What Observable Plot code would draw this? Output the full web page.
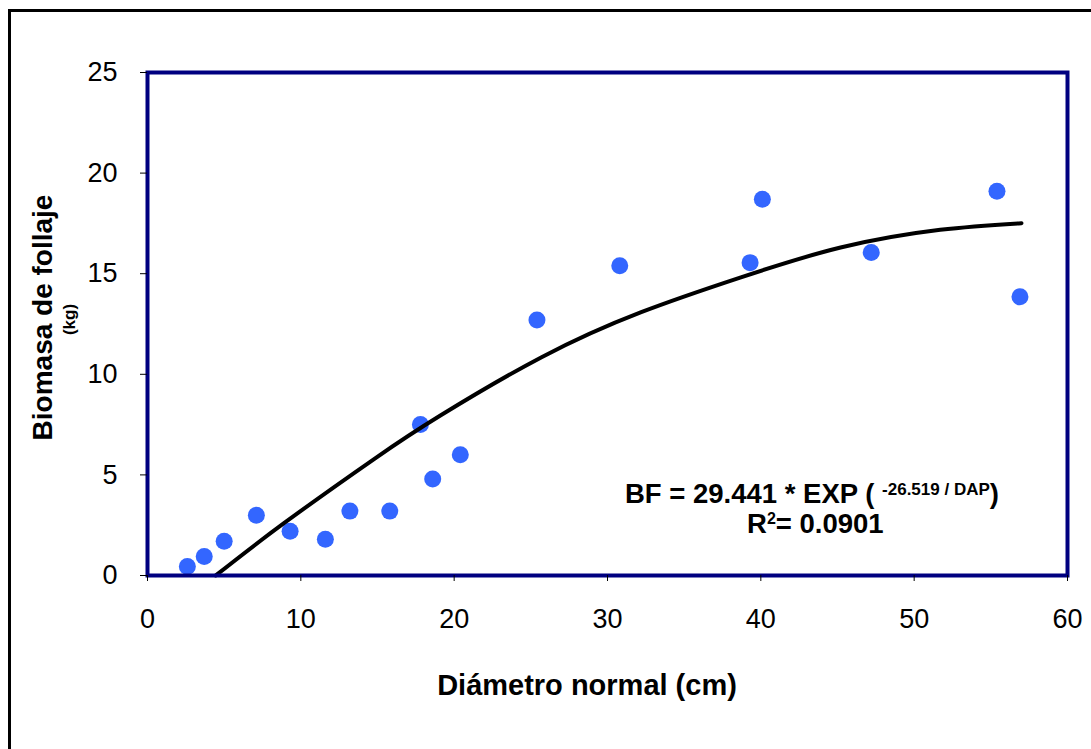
<!DOCTYPE html>
<html><head><meta charset="utf-8">
<script src="https://cdn.jsdelivr.net/npm/d3@7"></script>
<script src="https://cdn.jsdelivr.net/npm/@observablehq/plot@0.6"></script>
<style>body{margin:0;background:#fff;} svg{display:block}</style>
</head><body><div id="chart"></div>
<script>
// Observed data (diámetro normal cm, biomasa de follaje kg)
const diametro = [2.6, 3.7, 5.0, 7.1, 9.3, 11.6, 13.2, 15.8, 17.8, 18.6, 20.4, 25.4, 30.8, 39.3, 40.1, 47.2, 55.4, 56.9];
const biomasa  = [0.45, 0.95, 1.7, 3.0, 2.2, 1.8, 3.2, 3.2, 7.5, 4.8, 6.0, 12.7, 15.4, 15.55, 18.7, 16.05, 19.1, 13.85];
// Fitted curve
const curvaX = [4.45, 8.9, 14.8, 19.1, 25.7, 32.2, 38.7, 45.2, 51.7, 57.0];
const curvaY = [0, 2.6, 5.8, 7.95, 10.85, 13.09, 14.82, 16.3, 17.18, 17.51];
const xTicks = [0, 10, 20, 30, 40, 50, 60];
const yTicks = [0, 5, 10, 15, 20, 25];
const xTitle = "Diámetro normal (cm)";
const yTitle = "Biomasa de follaje";
const yUnit = "(kg)";
const eqMain = "BF = 29.441 * EXP ( ";
const eqSup = "-26.519 / DAP";
const eqEnd = ")";
const r2Label = "R";
const r2Sup = "2";
const r2Value = "= 0.0901";

const puntos = diametro.map((d, i) => ({x: d, y: biomasa[i]}));
const curva = curvaX.map((d, i) => ({x: d, y: curvaY[i]}));

const plot = Plot.plot({
  width: 1091,
  height: 749,
  marginLeft: 147,
  marginRight: 24,
  marginTop: 72,
  marginBottom: 174,
  style: {fontFamily: "'Liberation Sans', Arial, sans-serif", fontSize: "27px", color: "#000", background: "#fff"},
  x: {domain: [0, 60], ticks: xTicks},
  y: {domain: [0, 25], ticks: yTicks},
  marks: [
    Plot.dot(puntos, {x: "x", y: "y", r: 8.5, fill: "#3366FF", stroke: "none"}),
    Plot.line(curva, {x: "x", y: "y", stroke: "#000", strokeWidth: 4, curve: "natural"}),
    Plot.frame({stroke: "#000080", strokeWidth: 4}),
    Plot.axisX({ticks: xTicks, tickSize: 6, tickPadding: 27, label: null, fontSize: 27}),
    Plot.axisY({ticks: yTicks, tickSize: 7, tickPadding: 23, label: null, fontSize: 27})
  ]
});

document.getElementById("chart").appendChild(plot);
const svg = d3.select(plot);

// outer chart border (left and top visible)
svg.append("path").attr("d", "M9.5,749V10.5H1091").attr("fill", "none").attr("stroke", "#000").attr("stroke-width", 3);

// x title
svg.append("text").attr("x", 587).attr("y", 695).attr("text-anchor", "middle")
  .attr("font-size", 29).attr("font-weight", "bold").attr("fill", "#000").text(xTitle);

// y title
svg.append("text").attr("transform", "translate(52,317.5) rotate(-90)").attr("text-anchor", "middle")
  .attr("font-size", 28).attr("font-weight", "bold").attr("fill", "#000").text(yTitle);
svg.append("text").attr("transform", "translate(75,319.5) rotate(-90)").attr("text-anchor", "middle")
  .attr("font-size", 17).attr("font-weight", "bold").attr("fill", "#000").text(yUnit);

// equation annotation
const eq = svg.append("text").attr("x", 625).attr("y", 503).attr("text-anchor", "start")
  .attr("font-size", 27.5).attr("font-weight", "bold").attr("fill", "#000");
eq.append("tspan").text(eqMain);
eq.append("tspan").attr("font-size", 17).attr("dy", -8).text(eqSup);
eq.append("tspan").attr("dy", 8).text(eqEnd);

const r2 = svg.append("text").attr("x", 747).attr("y", 533).attr("text-anchor", "start")
  .attr("font-size", 27.5).attr("font-weight", "bold").attr("fill", "#000");
r2.append("tspan").text(r2Label);
r2.append("tspan").attr("font-size", 16).attr("dy", -9).text(r2Sup);
r2.append("tspan").attr("dy", 9).text(r2Value);
</script>
</body></html>
